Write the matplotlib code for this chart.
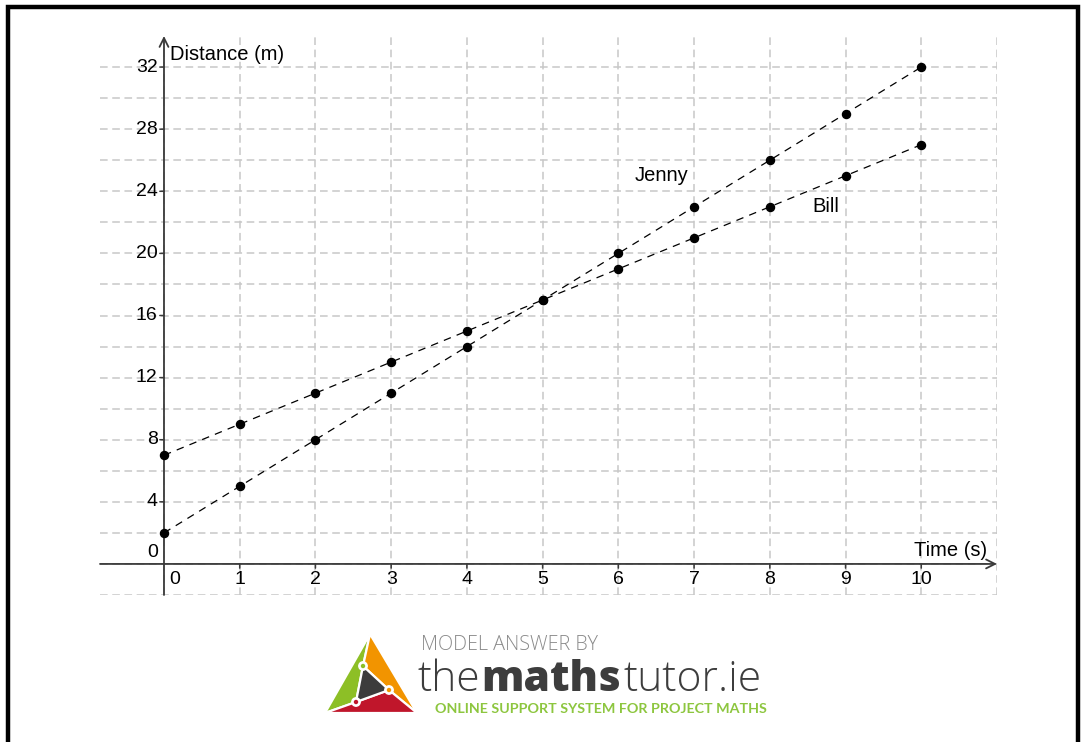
import matplotlib
matplotlib.use("Agg")
import matplotlib.pyplot as plt
from matplotlib.patches import Polygon, Circle

plt.rcParams['font.family'] = ['Liberation Sans', 'DejaVu Sans']

# data
time_s = [0, 1, 2, 3, 4, 5, 6, 7, 8, 9, 10]
jenny = [2, 5, 8, 11, 14, 17, 20, 23, 26, 29, 32]
bill = [7, 9, 11, 13, 15, 17, 19, 21, 23, 25, 27]
x_ticks = [0, 1, 2, 3, 4, 5, 6, 7, 8, 9, 10]
y_ticks = [0, 4, 8, 12, 16, 20, 24, 28, 32]
x_grid = [0, 1, 2, 3, 4, 5, 6, 7, 8, 9, 10, 11]
y_grid = [-2, 0, 2, 4, 6, 8, 10, 12, 14, 16, 18, 20, 22, 24, 26, 28, 30, 32]

W, H = 1081, 742
fig = plt.figure(figsize=(W / 100, H / 100), dpi=100)
fig.patch.set_facecolor('white')

# page layer in pixel coords (border + logo)
page = fig.add_axes([0, 0, 1, 1])
page.set_xlim(0, W)
page.set_ylim(H, 0)
page.axis('off')

# main chart
ax = fig.add_axes([100 / W, (H - 595) / H, 897 / W, 559 / H])
x0, x1, y0, y1 = -0.845, 11, -2, 34
ax.set_xlim(x0, x1)
ax.set_ylim(y0, y1)
ax.axis('off')

grid_col = '#c8c8c8'
ax.vlines(x_grid, y0, y1, colors=grid_col, lw=1.1, linestyles=(0, (5, 3)), zorder=1)
ax.hlines(y_grid, x0, x1, colors=grid_col, lw=1.1, linestyles=(0, (5, 3)), zorder=1)

axis_col = '#3a3a3a'
ax.annotate('', xy=(x1, 0), xytext=(x0, 0),
            arrowprops=dict(arrowstyle='->', lw=1.3, color=axis_col, mutation_scale=16,
                            shrinkA=0, shrinkB=0), annotation_clip=False, zorder=3)
ax.annotate('', xy=(0, y1), xytext=(0, y0),
            arrowprops=dict(arrowstyle='->', lw=1.3, color=axis_col, mutation_scale=16,
                            shrinkA=0, shrinkB=0), annotation_clip=False, zorder=3)

# tick marks
for t in x_ticks[1:]:
    ax.annotate('', xy=(t, 0), xytext=(0, -3), textcoords='offset points',
                arrowprops=dict(arrowstyle='-', lw=1.1, color=axis_col, shrinkA=0, shrinkB=0))
for t in y_ticks[1:]:
    ax.annotate('', xy=(0, t), xytext=(-3, 0), textcoords='offset points',
                arrowprops=dict(arrowstyle='-', lw=1.1, color=axis_col, shrinkA=0, shrinkB=0))

# tick labels
for t in x_ticks:
    dx = 8 if t == 0 else 0
    ax.annotate(str(t), xy=(t, 0), xytext=(dx, -5), textcoords='offset points',
                ha='center', va='top', fontsize=14, color='black')
for t in y_ticks:
    dy = 8 if t == 0 else 0
    ax.annotate(str(t), xy=(0, t), xytext=(-4.5, dy), textcoords='offset points',
                ha='right', va='center', fontsize=14, color='black')

ax.text(0.08, 32.8, 'Distance (m)', fontsize=14.5, ha='left', va='center')
ax.text(10.87, 0.84, 'Time (s)', fontsize=14.5, ha='right', va='center')

# series
ax.plot(time_s, jenny, color='black', lw=0.9, linestyle=(0, (6, 5)), marker='o',
        markersize=5.8, zorder=4, clip_on=False)
ax.plot(time_s, bill, color='black', lw=0.9, linestyle=(0, (6, 5)), marker='o',
        markersize=5.8, zorder=4, clip_on=False)
ax.text(6.57, 25.0, 'Jenny', fontsize=14.5, ha='center', va='center')
ax.text(8.74, 23.0, 'Bill', fontsize=14.5, ha='center', va='center')

# page border
page.plot([8, 8, 1078, 1078], [H, 7, 7, H], color='black', lw=3.2, solid_joinstyle='miter')

# logo
T, BL, BR = (370, 634), (325, 713), (417, 713)
C1, C2, C3 = (363, 666), (389, 690), (356, 702)
edge = dict(edgecolor='white', lw=1.6, joinstyle='round')
page.add_patch(Polygon([T, C1, C3, BL], facecolor='#8dbf26', **edge))
page.add_patch(Polygon([T, BR, C2, C1], facecolor='#f29400', **edge))
page.add_patch(Polygon([BL, C3, C2, BR], facecolor='#c0162b', **edge))
page.add_patch(Polygon([C1, C2, C3], facecolor='#3c3c3c', **edge))
for c, col in [(C1, '#8dbf26'), (C2, '#f29400'), (C3, '#c0162b')]:
    page.add_patch(Circle(c, 4.2, facecolor='white', edgecolor='white', zorder=5))
    page.add_patch(Circle(c, 2.2, facecolor=col, edgecolor='none', zorder=6))

logo_font = ['Open Sans', 'DejaVu Sans']
page.text(421, 650, 'MODEL ANSWER BY', family=logo_font, fontweight=300,
          fontsize=14.2, color='#8a8a8a', ha='left', va='baseline')
t1 = page.text(418, 691, 'the', family=logo_font, fontweight=300,
               fontsize=30.6, color='#3d3d3d', ha='left', va='baseline')
t2 = page.annotate('maths', xy=(1, 0), xycoords=t1, xytext=(0.5, 0), textcoords='offset points',
                   family=logo_font, fontweight=800,
                   fontsize=30.6, color='#3d3d3d', ha='left', va='bottom')
page.annotate('tutor.ie', xy=(1, 0), xycoords=t2, xytext=(1.5, 0), textcoords='offset points',
              family=logo_font, fontweight=300,
              fontsize=30.6, color='#3d3d3d', ha='left', va='bottom')
page.text(435, 713, 'ONLINE SUPPORT SYSTEM FOR PROJECT MATHS', family=['Lato', 'DejaVu Sans'],
          fontweight='bold', fontsize=10.3, color='#8dc63f', ha='left', va='baseline')

fig.savefig('out.png', dpi=100)
